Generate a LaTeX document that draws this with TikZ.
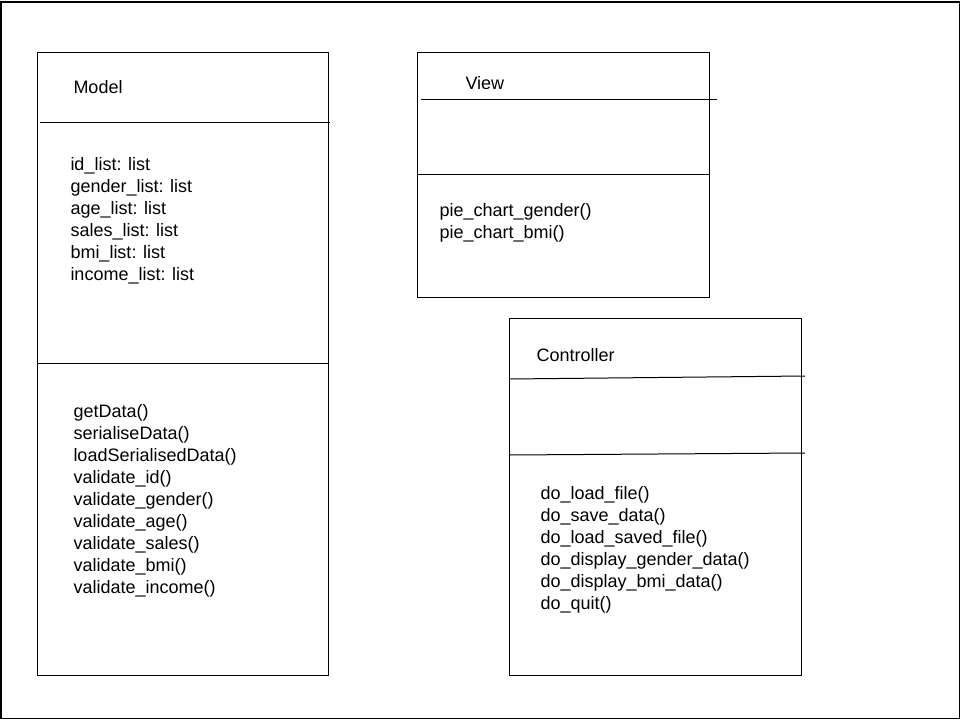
\documentclass[tikz,border=0pt]{standalone}
\usepackage{fontspec}
\setmainfont{Liberation Sans}
\begin{document}
\begin{tikzpicture}[x=1pt,y=-1pt,line width=1pt,
  box/.style={draw=black,line width=1pt,outer sep=0pt,inner sep=0pt,anchor=north west},
  txt/.style={anchor=base west,inner sep=0pt,font=\fontsize{18}{22}\selectfont}]
\useasboundingbox (0,0) rectangle (960,720);
\draw[line width=1.2pt] (1,2) rectangle (959.4,718.8);
% Model
\node[box,minimum width=291pt,minimum height=623pt] (model) at (37,52) {};
\coordinate (md1a) at (40,122); \coordinate (md1b) at (330,122);
\draw (md1a) -- (md1b);
\draw (37,363) coordinate (md2a) -- (328,363) coordinate (md2b);
\node[txt] (modeltitle) at (73,93) {Model};
\foreach \t [count=\i] in {id\_list: list,gender\_list: list,age\_list: list,sales\_list: list,bmi\_list: list,income\_list: list}
  \node[txt] (ma\i) at (70,{170+22*(\i-1)}) {\t};
\foreach \t [count=\i] in {getData(),serialiseData(),loadSerialisedData(),validate\_id(),validate\_gender(),validate\_age(),validate\_sales(),validate\_bmi(),validate\_income()}
  \node[txt] (mm\i) at (73,{417+22*(\i-1)}) {\t};
% View
\node[box,minimum width=292pt,minimum height=245pt] (view) at (417,52) {};
\draw (421,99) coordinate (vd1a) -- (717,99) coordinate (vd1b);
\draw (417,174) coordinate (vd2a) -- (709,174) coordinate (vd2b);
\node[txt] (viewtitle) at (465,89) {View};
\foreach \t [count=\i] in {pie\_chart\_gender(),pie\_chart\_bmi()}
  \node[txt] (vm\i) at (439,{216+22*(\i-1)}) {\t};
% Controller
\node[box,minimum width=292pt,minimum height=357pt] (ctrl) at (509,318) {};
\draw (509,379) coordinate (cd1a) -- (805,376) coordinate (cd1b);
\draw (509,455) coordinate (cd2a) -- (805,453) coordinate (cd2b);
\node[txt] (ctrltitle) at (536,361) {Controller};
\foreach \t [count=\i] in {do\_load\_file(),do\_save\_data(),do\_load\_saved\_file(),do\_display\_gender\_data(),do\_display\_bmi\_data(),do\_quit()}
  \node[txt] (cm\i) at (540,{499+22*(\i-1)}) {\t};
\end{tikzpicture}
\end{document}
